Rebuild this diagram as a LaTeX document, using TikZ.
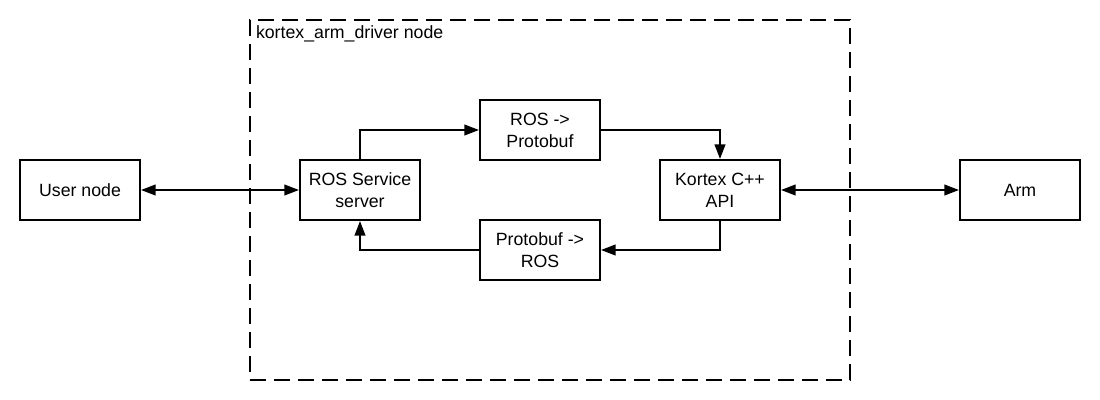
\documentclass[tikz,border=0pt]{standalone}
\usepackage{fontspec}
\setmainfont{Liberation Sans}
\usetikzlibrary{arrows.meta}

\tikzset{every picture/.style={line width=1.5pt}}
\tikzset{
  block/.style={draw, line width=1.5pt, minimum width=90pt, minimum height=45pt, align=center, inner sep=0.75pt, font=\fontsize{13.3}{16.5}\selectfont},
  link/.style={line width=1.5pt, -{Triangle[length=11pt,width=8pt]}},
  biglink/.style={line width=1.5pt, {Triangle[length=11pt,width=8pt]}-{Triangle[length=11pt,width=8pt]}}
}

\begin{document}
\begin{tikzpicture}[x=0.75pt,y=0.75pt,yscale=-1,xscale=1]
\useasboundingbox (0,0) rectangle (1100,400);

%Shape: Dashed Rectangle [driver]
\node [draw, line width=1.5pt, dash pattern=on 12pt off 6pt, minimum width=450pt, minimum height=270pt, inner sep=0pt] (driver) at (550,200) {};
% Text Node
\node [anchor=north west, inner sep=0.75pt, font=\fontsize{13.3}{16}\selectfont] (drivertitle) at (254,24) {kortex\_arm\_driver node};

%Shape: Rectangle [user]
\node [block] (user) at (80,190) {User node};
%Shape: Rectangle [server]
\node [block] (server) at (360,190) {ROS Service\\server};
%Shape: Rectangle [rosproto]
\node [block] (rosproto) at (540,130) {ROS ->\\Protobuf};
%Shape: Rectangle [protoros]
\node [block] (protoros) at (540,250) {Protobuf ->\\ROS};
%Shape: Rectangle [kortex]
\node [block] (kortex) at (720,190) {Kortex C++\\API};
%Shape: Rectangle [arm]
\node [block] (arm) at (1020,190) {Arm};

%Straight Lines
\draw [biglink] (user) -- (server);
\draw [biglink] (kortex) -- (arm);
%Elbow Lines
\draw [link] (server.north) |- (rosproto.west);
\draw [link] (rosproto.east) -| (kortex.north);
\draw [link] (kortex.south) |- (protoros.east);
\draw [link] (protoros.west) -| (server.south);

\end{tikzpicture}
\end{document}
